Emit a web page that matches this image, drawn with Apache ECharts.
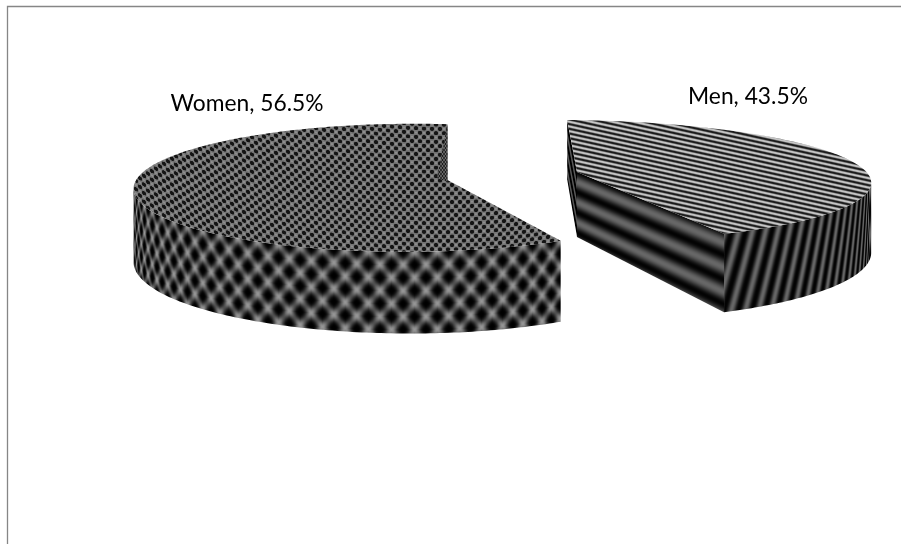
<!DOCTYPE html>
<html>
<head>
<meta charset="utf-8">
<style>html,body{margin:0;padding:0;background:#fff}#c{width:901px;height:544px}</style>
<script src="https://cdn.jsdelivr.net/npm/echarts@6/dist/echarts.min.js"></script>
</head>
<body>
<div id="c"></div>
<script>
const categories = ['Women', 'Men'];
const shares = [56.5, 43.5];

const W = 901, H = 544, TAU = Math.PI * 2;
const clamp = (v, a, b) => Math.max(a, Math.min(b, v));
const sstep = (a, b, v) => { const t = clamp((v - a) / (b - a), 0, 1); return t * t * (3 - 2 * t); };

// perspective models of each exploded slice
const views = {
  Women: { cx: 447.5, cy: 180, A: 62.5, B: 269, k: 0.12, m: 0.136, L: 0, h: 72, labelX: 247, labelY: 104 },
  Men:   { cx: 577, cy: 172, A: 59.5, B: 301, k: 0.145, m: 0.04, L: 11.2, h: 68, labelX: 748, labelY: 97 }
};
const menSweep = shares[categories.indexOf('Men')] / 100 * 360;

function rim(v, deg) {
  const t = deg * Math.PI / 180, X = Math.sin(t), Y = -Math.cos(t), D = 1 - v.k * Y + v.m * X;
  return [v.cx + (v.B * X + v.L * Y) / D, v.cy + v.A * Y / D];
}
function wallH(v, deg) { const Y = -Math.cos(deg * Math.PI / 180); return v.h / (1 - v.k * Y); }
function arc(v, a, b, n) { const r = []; for (let i = 0; i <= n; i++) r.push(rim(v, a + (b - a) * i / n)); return r; }
function drop(v, deg) { const p = rim(v, deg); return [p[0], p[1] + wallH(v, deg)]; }
// the angle at which the rim reaches its widest point on one side
function extreme(v, a, b, sign) {
  let best = a, bestX = -Infinity;
  for (let d = a; d <= b; d += 0.1) { const x = sign * rim(v, d)[0]; if (x > bestX) { bestX = x; best = d; } }
  return best;
}

// paints a screen-sized texture from a per-pixel grey function
function texture(fn) {
  const c = document.createElement('canvas'); c.width = W; c.height = H;
  const g = c.getContext('2d'), d = g.createImageData(W, H);
  for (let y = 0, i = 0; y < H; y++) for (let x = 0; x < W; x++, i += 4) {
    const s = clamp(fn(x + .5, y + .5), 0, 255);
    d.data[i] = d.data[i + 1] = d.data[i + 2] = s; d.data[i + 3] = 255;
  }
  g.putImageData(d, 0, 0);
  return { image: c, repeat: 'repeat' };
}
// column -> angle lookup for a curved wall
function columnAngles(v, a, b) {
  const t = new Float32Array(W).fill(NaN);
  const n = 4000;
  for (let i = 0; i <= n; i++) {
    const d = a + (b - a) * i / n, x = Math.floor(rim(v, d)[0]);
    if (x >= 0 && x < W && isNaN(t[x])) t[x] = d;
  }
  return t;
}

const wv = views.Women, mv = views.Men;
const wEnd = extreme(wv, 230, 300, -1), mEnd = extreme(mv, 60, 120, 1);
const wCols = columnAngles(wv, menSweep, wEnd);
const mCols = columnAngles(mv, mEnd, menSweep);

const womenTop = texture((x, y) => {
  const yy = y + 0.0008 * (x - 447) * (x - 447);
  const s = Math.cos(TAU * x / 8) * Math.cos(TAU * yy / 8.6);
  return 118 - 98 * sstep(-0.05, 0.4, s) + 24 * sstep(0.55, 0.9, -s);
});
const womenWall = texture((x, y) => {
  const d = wCols[Math.floor(x)];
  if (isNaN(d)) return 60;
  const p = rim(wv, d), v = (y - p[1]) / 13;
  const u = (d - menSweep) / 4.2;
  const a = Math.cos(TAU * (u + v / 2)), b = Math.cos(TAU * (u - v / 2));
  const I = 0.6 * (a + b + 2) / 4 + 0.4 * Math.max(.5 + .5 * a, .5 + .5 * b);
  return Math.pow(I, 1.8) * 150;
});
const womenCut = texture((x, y) => 70 + 60 * Math.cos(TAU * x / 3) * Math.cos(TAU * y / 4));
const menTop = texture((x, y) => {
  const s = Math.sin(TAU * (y - 0.22 * x) / 4.7);
  return 112 + 85 * clamp(1.15 * s, -1, 1);
});
const menWall = texture((x, y) => {
  const d = mCols[Math.floor(x)];
  if (isNaN(d)) return 40;
  const p = rim(mv, d), v = (y - p[1]) / wallH(mv, d);
  const s = Math.cos(TAU * ((menSweep - d) / 3.0 + 1.5 * v));
  return Math.pow(.5 + .5 * s, 1.3) * 100 + 3;
});
const menFace = texture((x, y) => {
  const c = rim(mv, menSweep);
  const t = clamp((x - mv.cx) / (c[0] - mv.cx), 0, 1);
  const y0 = mv.cy + t * (c[1] - mv.cy);
  const hh = 65 + t * (wallH(mv, menSweep) - 65);
  const v = (y - y0) / hh;
  const s = Math.cos(TAU * 3.2 * v + t * 0.8);
  return (.5 - .5 * s) * 100 + 3;
});
const menSliver = texture((x, y) => {
  const xx = x - (y - 120) * 0.19;
  return 35 + 55 * Math.cos(TAU * xx / 3.4);
});

function renderSlice(params, api) {
  const label = categories[params.dataIndex], share = api.value(0);
  const v = views[label], kids = [];
  const poly = (points, fill) => kids.push({ type: 'polygon', shape: { points }, style: { fill, stroke: null }, silent: true });
  const apex = [v.cx, v.cy];
  if (label === 'Women') {
    const a = menSweep, b = 360;
    const wallTop = arc(v, a, wEnd, 120), wallBot = [];
    for (let i = 120; i >= 0; i--) wallBot.push(drop(v, a + (wEnd - a) * i / 120));
    poly(wallTop.concat(wallBot), womenWall);
    poly([apex].concat(arc(v, a, b, 200)), womenTop);
    const s = rim(v, 360);
    poly([s, [apex[0], apex[1] + 2], [apex[0] - 10.5, apex[1] - 2]], womenCut);
  } else {
    const a = 0, b = share / 100 * 360;
    const wallTop = arc(v, mEnd, b, 80), wallBot = [];
    for (let i = 80; i >= 0; i--) wallBot.push(drop(v, mEnd + (b - mEnd) * i / 80));
    poly(wallTop.concat(wallBot), menWall);
    const s = rim(v, a), e = rim(v, b);
    poly([apex, e, drop(v, b), [apex[0], apex[1] + 65]], menFace);
    poly([s, apex, [apex[0], apex[1] + 65], drop(v, a)], menSliver);
    poly([apex].concat(arc(v, a, b, 200)), menTop);
  }
  kids.push({
    type: 'text', silent: true,
    style: { x: v.labelX, y: v.labelY, text: label + ', ' + share.toFixed(1) + '%', fill: '#000',
      font: '22.8px Lato', align: 'center', verticalAlign: 'middle' }
  });
  return { type: 'group', children: kids };
}

const chart = echarts.init(document.getElementById('c'), null, { renderer: 'canvas', width: W, height: H, devicePixelRatio: 1 });
chart.setOption({
  animation: false,
  backgroundColor: '#fff',
  graphic: [{ type: 'polyline', silent: true, shape: { points: [[7.5, H], [7.5, 6.5], [W, 6.5]] }, style: { fill: null, stroke: '#868686', lineWidth: 1.3 } }],
  series: [{
    type: 'custom', coordinateSystem: 'none', silent: true,
    data: categories.map((c, i) => ({ name: c, value: [shares[i]] })),
    renderItem: renderSlice
  }]
});
</script>
</body>
</html>
